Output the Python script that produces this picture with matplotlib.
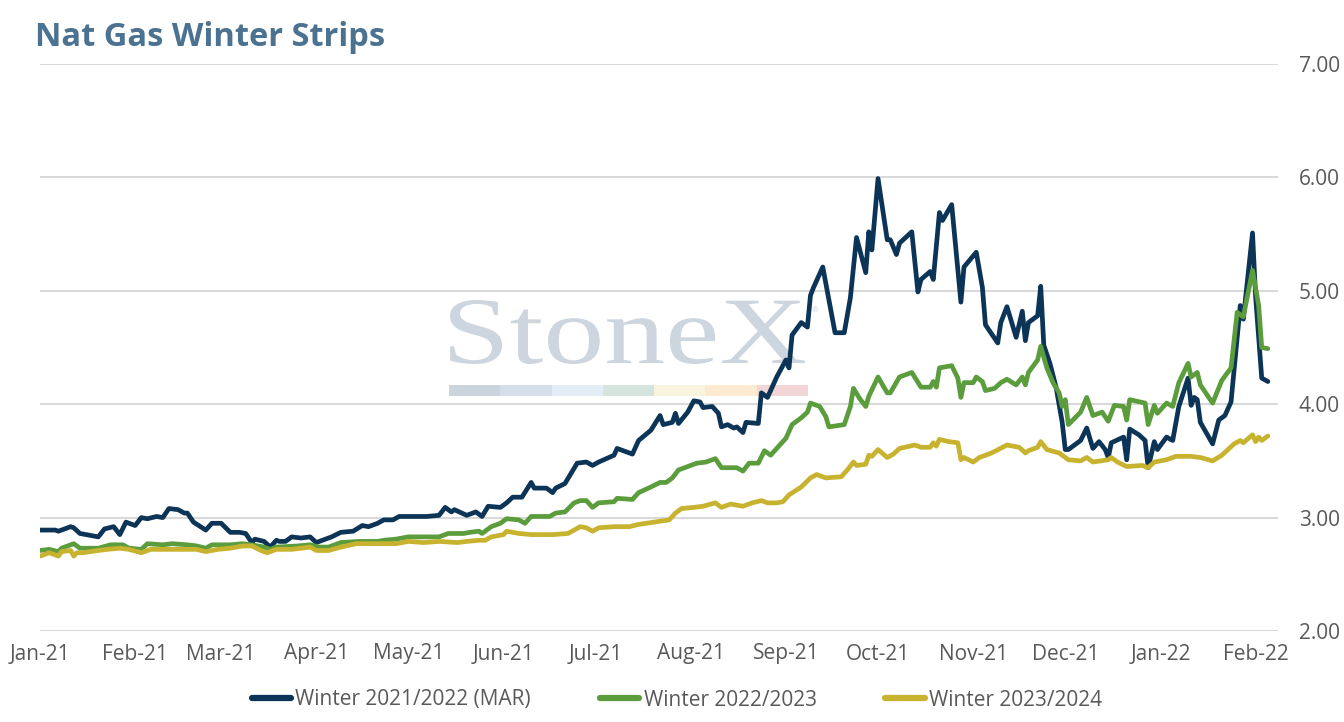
import numpy as np
import pandas as pd
import matplotlib
matplotlib.use("Agg")
import matplotlib.pyplot as plt
import matplotlib.dates as mdates
from matplotlib.patches import Rectangle, PathPatch
from matplotlib.textpath import TextPath
from matplotlib.font_manager import FontProperties
from matplotlib.transforms import Affine2D

plt.rcParams['font.family'] = ['Open Sans', 'DejaVu Sans']

# data (days counted from 2021-01-01)
start = pd.Timestamp('2021-01-01')

w2122_days = [0, 5, 6, 10, 11, 13, 19, 21, 24, 26,
              28, 31, 33, 35, 38, 40, 42, 45, 47, 48,
              50, 54, 56, 59, 62, 65, 67, 69, 70, 73,
              75, 77, 78, 80, 82, 85, 88, 90, 92, 95,
              98, 102, 105, 107, 110, 112, 115, 117, 121, 124,
              126, 130, 132, 134, 135, 139, 142, 144, 146, 150,
              152, 154, 157, 160, 161, 165, 167, 168, 171, 175,
              178, 180, 182, 187, 188, 190, 193, 195, 199, 202,
              203, 206, 207, 208, 211, 213, 215, 216, 219, 221,
              222, 224, 226, 227, 229, 230, 234, 235, 237, 240,
              243, 244, 245, 248, 250, 251, 252, 255, 257, 259,
              262, 264, 266, 269, 270, 271, 273, 276, 277, 279,
              280, 284, 286, 287, 290, 291, 293, 294, 297, 300,
              301, 305, 307, 308, 312, 313, 315, 318, 320, 321,
              322, 325, 326, 327, 329, 331, 333, 334, 335, 339,
              341, 343, 345, 347, 348, 349, 353, 354, 355, 358,
              360, 361, 363, 364, 367, 369, 371, 374, 375, 376,
              377, 378, 382, 384, 386, 388, 391, 392, 395, 396,
              398, 400]
w2122_vals = [2.89, 2.89, 2.88, 2.92, 2.91, 2.86, 2.83, 2.90, 2.92, 2.85,
              2.96, 2.93, 3.00, 2.99, 3.01, 3.00, 3.08, 3.07, 3.04, 3.04,
              2.96, 2.89, 2.95, 2.95, 2.87, 2.87, 2.86, 2.78, 2.81, 2.79,
              2.74, 2.80, 2.79, 2.79, 2.83, 2.82, 2.83, 2.78, 2.80, 2.83,
              2.87, 2.88, 2.93, 2.92, 2.95, 2.98, 2.98, 3.01, 3.01, 3.01,
              3.01, 3.02, 3.09, 3.05, 3.07, 3.02, 3.05, 3.01, 3.10, 3.09,
              3.13, 3.18, 3.18, 3.31, 3.26, 3.26, 3.22, 3.26, 3.30, 3.48,
              3.49, 3.46, 3.49, 3.55, 3.61, 3.59, 3.56, 3.68, 3.77, 3.90,
              3.82, 3.84, 3.92, 3.83, 3.93, 4.03, 4.02, 3.97, 3.98, 3.92,
              3.80, 3.82, 3.79, 3.80, 3.75, 3.84, 3.83, 4.10, 4.06, 4.24,
              4.39, 4.32, 4.61, 4.72, 4.68, 4.96, 5.03, 5.21, 4.92, 4.63,
              4.63, 4.94, 5.47, 5.16, 5.52, 5.36, 5.99, 5.45, 5.45, 5.32,
              5.42, 5.52, 4.99, 5.10, 5.17, 5.10, 5.69, 5.62, 5.76, 4.90,
              5.21, 5.34, 5.03, 4.70, 4.54, 4.72, 4.86, 4.59, 4.82, 4.56,
              4.72, 4.78, 5.04, 4.52, 4.36, 4.15, 3.84, 3.60, 3.60, 3.68,
              3.79, 3.61, 3.67, 3.60, 3.53, 3.66, 3.71, 3.51, 3.78, 3.73,
              3.68, 3.44, 3.67, 3.60, 3.71, 3.68, 3.98, 4.23, 3.99, 4.06,
              4.04, 3.84, 3.65, 3.86, 3.90, 4.02, 4.87, 4.75, 5.51, 4.95,
              4.23, 4.20]

w2223_days = [0, 3, 6, 7, 11, 13, 19, 23, 27, 29,
              33, 35, 40, 43, 48, 51, 54, 56, 62, 66,
              69, 73, 75, 77, 84, 88, 91, 94, 98, 104,
              110, 112, 116, 120, 125, 130, 133, 138, 140, 143,
              144, 147, 150, 152, 156, 158, 160, 163, 166, 168,
              171, 174, 176, 178, 180, 182, 187, 188, 193, 195,
              199, 202, 204, 206, 208, 211, 214, 217, 220, 222,
              227, 229, 231, 234, 236, 238, 240, 243, 245, 248,
              250, 251, 254, 256, 257, 262, 264, 265, 267, 269,
              270, 273, 276, 277, 280, 284, 287, 290, 291, 292,
              293, 297, 299, 300, 301, 304, 305, 307, 308, 311,
              313, 315, 318, 320, 321, 322, 325, 326, 328, 330,
              332, 333, 334, 335, 339, 341, 343, 346, 348, 350,
              353, 354, 355, 360, 361, 363, 364, 367, 369, 371,
              374, 375, 377, 378, 382, 385, 388, 390, 392, 395,
              397, 398, 400]
w2223_vals = [2.71, 2.72, 2.70, 2.73, 2.77, 2.73, 2.73, 2.76, 2.76, 2.73,
              2.72, 2.77, 2.76, 2.77, 2.76, 2.75, 2.73, 2.76, 2.76, 2.77,
              2.76, 2.74, 2.72, 2.74, 2.75, 2.76, 2.74, 2.74, 2.78, 2.79,
              2.79, 2.80, 2.81, 2.83, 2.83, 2.83, 2.86, 2.86, 2.87, 2.88,
              2.86, 2.92, 2.95, 2.99, 2.98, 2.95, 3.01, 3.01, 3.01, 3.04,
              3.05, 3.13, 3.15, 3.15, 3.09, 3.13, 3.14, 3.17, 3.16, 3.22,
              3.27, 3.31, 3.31, 3.35, 3.42, 3.45, 3.48, 3.49, 3.52, 3.44,
              3.44, 3.41, 3.48, 3.48, 3.59, 3.55, 3.61, 3.70, 3.82, 3.88,
              3.93, 4.01, 3.98, 3.89, 3.80, 3.82, 3.98, 4.14, 4.05, 3.98,
              4.07, 4.24, 4.10, 4.10, 4.24, 4.28, 4.15, 4.15, 4.20, 4.15,
              4.32, 4.34, 4.23, 4.06, 4.19, 4.19, 4.24, 4.20, 4.12, 4.14,
              4.19, 4.22, 4.17, 4.24, 4.17, 4.28, 4.39, 4.51, 4.32, 4.19,
              4.10, 3.98, 4.04, 3.82, 3.93, 4.06, 3.90, 3.93, 3.85, 3.99,
              3.98, 3.86, 4.04, 4.01, 3.82, 3.99, 3.92, 4.01, 3.98, 4.19,
              4.36, 4.24, 4.28, 4.17, 4.01, 4.21, 4.32, 4.81, 4.77, 5.18,
              4.87, 4.50, 4.49]

w2324_days = [0, 3, 6, 7, 10, 11, 12, 14, 19, 22,
              26, 29, 33, 36, 40, 46, 51, 54, 58, 62,
              66, 69, 72, 74, 77, 82, 88, 90, 94, 98,
              103, 110, 116, 120, 125, 130, 136, 139, 143, 145,
              147, 151, 152, 156, 160, 163, 167, 172, 174, 176,
              178, 180, 182, 187, 192, 195, 200, 205, 207, 209,
              213, 216, 220, 222, 225, 229, 232, 235, 237, 240,
              242, 244, 248, 251, 253, 256, 261, 263, 265, 266,
              269, 270, 271, 273, 276, 278, 280, 285, 287, 290,
              291, 292, 293, 296, 299, 300, 301, 304, 306, 310,
              315, 319, 321, 322, 325, 326, 328, 332, 335, 339,
              341, 343, 348, 349, 351, 354, 359, 361, 363, 367,
              370, 375, 378, 382, 385, 389, 391, 392, 395, 396,
              397, 398, 400]
w2324_vals = [2.66, 2.69, 2.66, 2.70, 2.71, 2.66, 2.69, 2.69, 2.71, 2.72,
              2.73, 2.72, 2.69, 2.72, 2.72, 2.72, 2.72, 2.70, 2.72, 2.73,
              2.75, 2.75, 2.71, 2.69, 2.72, 2.72, 2.74, 2.71, 2.71, 2.74,
              2.77, 2.77, 2.77, 2.79, 2.78, 2.79, 2.78, 2.79, 2.80, 2.80,
              2.83, 2.85, 2.88, 2.86, 2.85, 2.85, 2.85, 2.86, 2.89, 2.92,
              2.91, 2.88, 2.91, 2.92, 2.92, 2.94, 2.96, 2.98, 3.04, 3.08,
              3.09, 3.10, 3.13, 3.09, 3.12, 3.10, 3.13, 3.15, 3.13, 3.13,
              3.14, 3.20, 3.27, 3.35, 3.38, 3.35, 3.36, 3.42, 3.49, 3.46,
              3.47, 3.55, 3.54, 3.60, 3.53, 3.56, 3.61, 3.64, 3.62, 3.62,
              3.66, 3.63, 3.69, 3.67, 3.66, 3.51, 3.53, 3.49, 3.53, 3.57,
              3.64, 3.62, 3.57, 3.59, 3.62, 3.67, 3.60, 3.57, 3.51, 3.50,
              3.53, 3.49, 3.51, 3.53, 3.49, 3.45, 3.46, 3.44, 3.49, 3.51,
              3.54, 3.54, 3.53, 3.50, 3.55, 3.65, 3.68, 3.66, 3.73, 3.67,
              3.71, 3.68, 3.72]

series_labels = ['Winter 2021/2022 (MAR)', 'Winter 2022/2023', 'Winter 2023/2024']
series_colors = ['#0c3457', '#5b9c3c', '#c8b330']
y_ticks = [2.0, 3.0, 4.0, 5.0, 6.0, 7.0]

W, H = 1344, 722
fig = plt.figure(figsize=(W / 100, H / 100), dpi=100)
ax = fig.add_axes([40 / W, 1 - 631 / H, (1278 - 40) / W, (631 - 64) / H])
ax.set_facecolor('none')

series = [(w2122_days, w2122_vals), (w2223_days, w2223_vals), (w2324_days, w2324_vals)]
for (d, v), lab, col in zip(series, series_labels, series_colors):
    x = start + pd.to_timedelta(d, unit='D')
    ax.plot(x, v, color=col, lw=3.4, label=lab, solid_joinstyle='round', solid_capstyle='round')

ax.set_ylim(2, 7)
ax.set_xlim(start, start + pd.Timedelta(days=403.3))
ax.set_yticks(y_ticks)
ax.yaxis.set_major_formatter(plt.FormatStrFormatter('%.2f'))
ax.yaxis.tick_right()
ax.xaxis.set_major_locator(mdates.MonthLocator())
ax.xaxis.set_major_formatter(mdates.DateFormatter('%b-%y'))
ax.tick_params(axis='both', length=0, labelsize=15, labelcolor='#595959')
ax.tick_params(axis='x', pad=9)
ax.tick_params(axis='y', pad=15)
ax.grid(axis='y', color='#d9d9d9', lw=1.5)
ax.set_axisbelow(True)
for s in ax.spines.values():
    s.set_visible(False)

# title
fig.text(35 / W, 1 - 46 / H, 'Nat Gas Winter Strips', fontsize=23.5, fontweight='bold',
         color='#4b7291', va='baseline', ha='left')

# watermark
tp = TextPath((0, 0), 'StoneX', size=1, prop=FontProperties(family='Liberation Serif'))
bb = tp.get_extents()
sx = (355 / W) / bb.width
sy = (64 / H) / bb.height
tr = Affine2D().translate(-bb.x0, -bb.y0).scale(sx, sy).translate(450 / W, 1 - 364 / H)
fig.patches.append(PathPatch(tp, transform=tr + fig.transFigure, facecolor='#cdd5de',
                             edgecolor='none', zorder=-1))
fig.text(812 / W, 1 - 312 / H, '®', fontsize=6, color='#cdd5de', zorder=-1)
bar_cols = ['#ccd4dd', '#d6dfe9', '#e3edf5', '#d5e4dc', '#f8f4dd', '#fdebd1', '#f1d5d7']
seg = (808 - 449) / len(bar_cols)
for i, c in enumerate(bar_cols):
    fig.patches.append(Rectangle(((449 + i * seg) / W, 1 - 396 / H), seg / W, 11 / H,
                                 transform=fig.transFigure, facecolor=c, edgecolor='none', zorder=-1))

leg = fig.legend(loc='center', bbox_to_anchor=(677 / W, 1 - 700 / H), ncol=3, frameon=False,
                 fontsize=15, handlelength=1.9, handletextpad=0.2, columnspacing=3.3)
for t in leg.get_texts():
    t.set_color('#595959')
for l in leg.get_lines():
    l.set_linewidth(4.5)

fig.savefig('out.png', dpi=100)
